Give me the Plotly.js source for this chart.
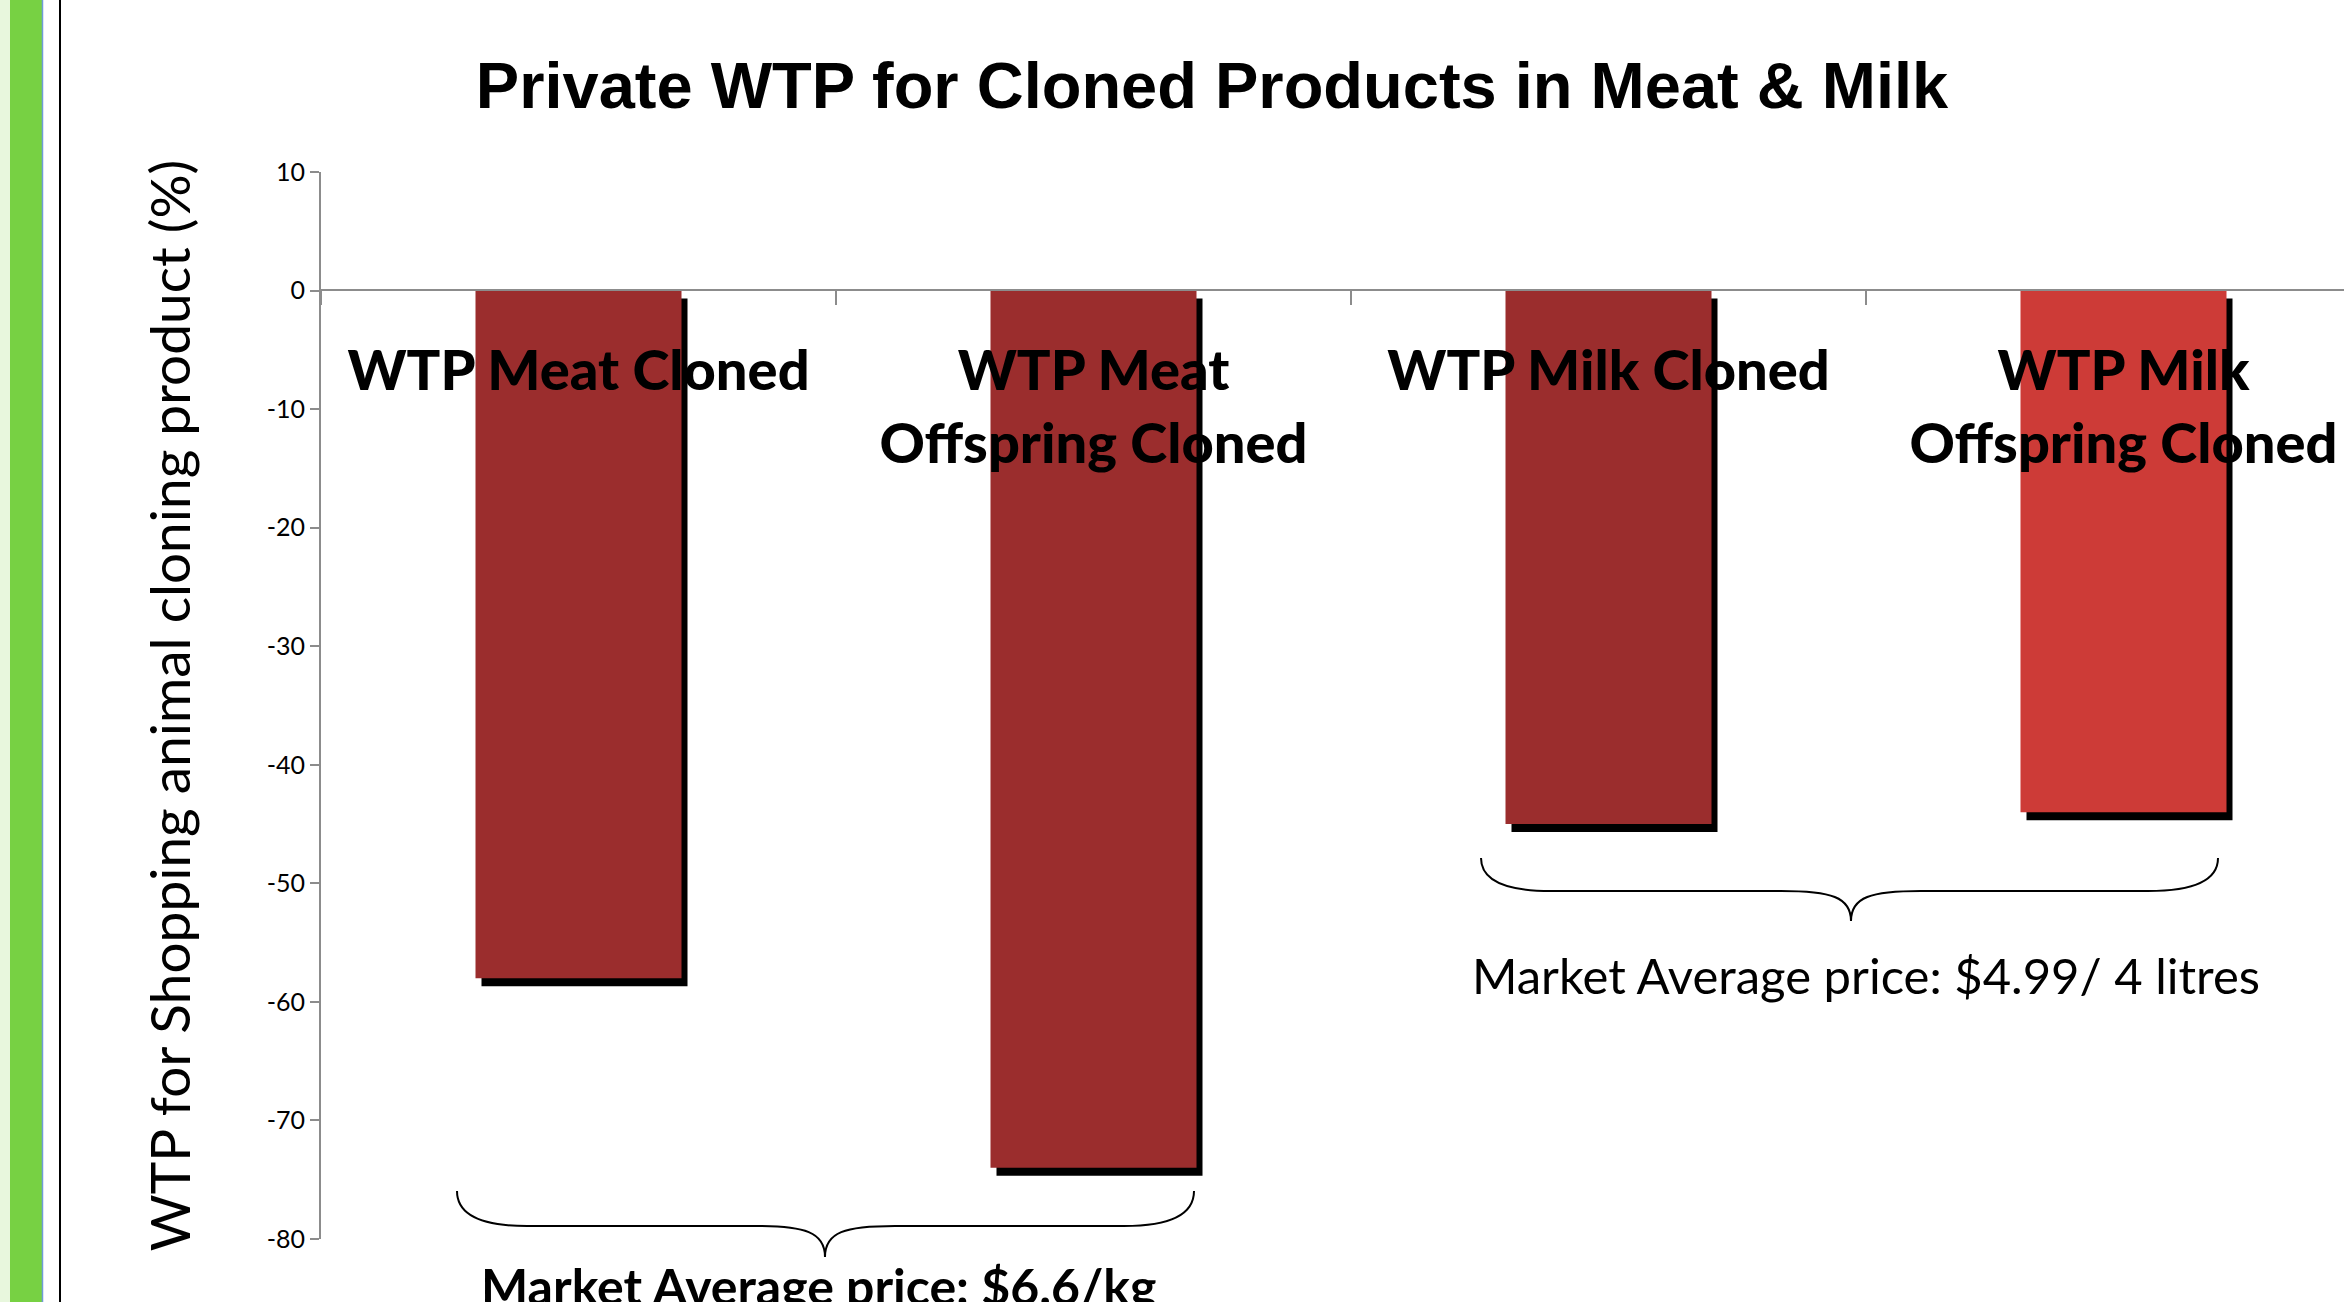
<!DOCTYPE html>
<html>
<head>
<meta charset="utf-8">
<script src="https://cdn.plot.ly/plotly-3.0.1.min.js"></script>
<style>
html,body{margin:0;padding:0;background:#fff;overflow:hidden;}
#chart{width:2344px;height:1302px;}
</style>
</head>
<body>
<div id="chart"></div>
<script>
// ---- data ----
const categories = ["WTP Meat Cloned", "WTP Meat<br>Offspring Cloned", "WTP Milk Cloned", "WTP Milk<br>Offspring Cloned"];
const wtpValues = [-58, -74, -45, -44];
const barColors = ["#9b2d2d", "#9b2d2d", "#9b2d2d", "#cd3b37"];
const yTickVals = [10, 0, -10, -20, -30, -40, -50, -60, -70, -80];
const yTickLabels = ["10", "0", "-10", "-20", "-30", "-40", "-50", "-60", "-70", "-80"];
const titleText = "Private WTP for Cloned Products in Meat & Milk";
const yTitleText = "WTP for Shopping animal cloning product (%)";
const meatNote = "Market Average price: $6.6/kg";
const milkNote = "Market Average price: $4.99/ 4 litres";

// ---- layout geometry (pixels) ----
const W = 2344, H = 1302;
const L = 321, R = W, T = 172, B = 1239;
const PW = R - L, PH = B - T;
const px = v => (v - L) / PW;
const py = v => (B - v) / PH;

function brace(x0, x1, xc, yt, ym, yb) {
  const r = 70;
  const p = (x, y) => px(x).toFixed(5) + "," + py(y).toFixed(5);
  return "M" + p(x0, yt) +
    " Q" + p(x0, ym) + " " + p(x0 + r, ym) +
    " L" + p(xc - r, ym) +
    " C" + p(xc - 20, ym) + " " + p(xc, ym + 6) + " " + p(xc, yb) +
    " C" + p(xc, ym + 6) + " " + p(xc + 20, ym) + " " + p(xc + r, ym) +
    " L" + p(x1 - r, ym) +
    " Q" + p(x1, ym) + " " + p(x1, yt);
}

const barWidth = 0.4;
const shadowShiftX = 6 / 515;
const shadowShiftY = 8 / 11.86;

const shadow = {
  type: "bar",
  x: categories,
  y: wtpValues,
  base: wtpValues.map(() => -shadowShiftY),
  width: barWidth,
  offset: -barWidth / 2 + shadowShiftX,
  marker: {color: "#000000", line: {width: 0}},
  hoverinfo: "skip",
  showlegend: false
};
const bars = {
  type: "bar",
  x: categories,
  y: wtpValues,
  width: barWidth,
  offset: -barWidth / 2,
  marker: {color: barColors, line: {width: 0}},
  showlegend: false
};

const layout = {
  width: W, height: H,
  margin: {l: L, r: W - R, t: T, b: H - B, pad: 0},
  paper_bgcolor: "#ffffff",
  plot_bgcolor: "rgba(0,0,0,0)",
  barmode: "overlay",
  showlegend: false,
  title: {
    text: "<b>" + titleText + "</b>",
    font: {family: "Liberation Sans, Arial, sans-serif", size: 65, color: "#000"},
    xref: "container", x: 1212 / W, xanchor: "center",
    yref: "container", y: 1 - 85 / H, yanchor: "middle"
  },
  xaxis: {
    type: "category",
    range: [-0.5, -0.5 + PW / 515],
    anchor: "free",
    position: py(290),
    showline: true, linecolor: "#8c8c8c", linewidth: 2,
    ticks: "outside", ticklen: 14, tickwidth: 2, tickcolor: "#8c8c8c",
    tickson: "boundaries",
    showgrid: false, zeroline: false,
    tickfont: {family: "Lato, Open Sans, sans-serif", size: 56, color: "#000", weight: 900},
    ticklabelstandoff: 32,
    fixedrange: true
  },
  yaxis: {
    range: [-80, 10],
    tickvals: yTickVals,
    ticktext: yTickLabels,
    showline: true, linecolor: "#8c8c8c", linewidth: 2,
    ticks: "outside", ticklen: 9, tickwidth: 2, tickcolor: "#8c8c8c",
    showgrid: false, zeroline: false,
    tickfont: {family: "Lato, Carlito, sans-serif", size: 25, color: "#000"},
    title: {
      text: yTitleText,
      font: {family: "Lato, Open Sans, sans-serif", size: 55, color: "#000"},
      standoff: 58
    },
    fixedrange: true
  },
  shapes: [
    {type: "rect", xref: "paper", yref: "paper", x0: px(0), x1: px(10), y0: py(H), y1: py(0), fillcolor: "#e8f7dd", line: {width: 0}, layer: "below"},
    {type: "rect", xref: "paper", yref: "paper", x0: px(10), x1: px(42), y0: py(H), y1: py(0), fillcolor: "#77d143", line: {width: 0}, layer: "below"},
    {type: "line", xref: "paper", yref: "paper", x0: px(42.5), x1: px(42.5), y0: py(H), y1: py(0), line: {color: "#6f9bd6", width: 1.5}},
    {type: "line", xref: "paper", yref: "paper", x0: px(60), x1: px(60), y0: py(H), y1: py(0), line: {color: "#000", width: 2}},
    {type: "path", xref: "paper", yref: "paper", path: brace(457, 1194, 825, 1191, 1226, 1257), line: {color: "#000", width: 2}},
    {type: "path", xref: "paper", yref: "paper", path: brace(1481, 2218, 1851, 858, 891, 921), line: {color: "#000", width: 2}}
  ],
  annotations: [
    {text: "<b>" + meatNote + "</b>", xref: "paper", yref: "paper", x: px(818), y: py(1286),
     xanchor: "center", yanchor: "middle", showarrow: false,
     font: {family: "Lato, Open Sans, sans-serif", size: 50, color: "#000"}},
    {text: milkNote, xref: "paper", yref: "paper", x: px(1866), y: py(975),
     xanchor: "center", yanchor: "middle", showarrow: false,
     font: {family: "Lato, Open Sans, sans-serif", size: 49, color: "#000"}}
  ]
};

Plotly.newPlot("chart", [shadow, bars], layout, {displayModeBar: false, staticPlot: true});
</script>
</body>
</html>
